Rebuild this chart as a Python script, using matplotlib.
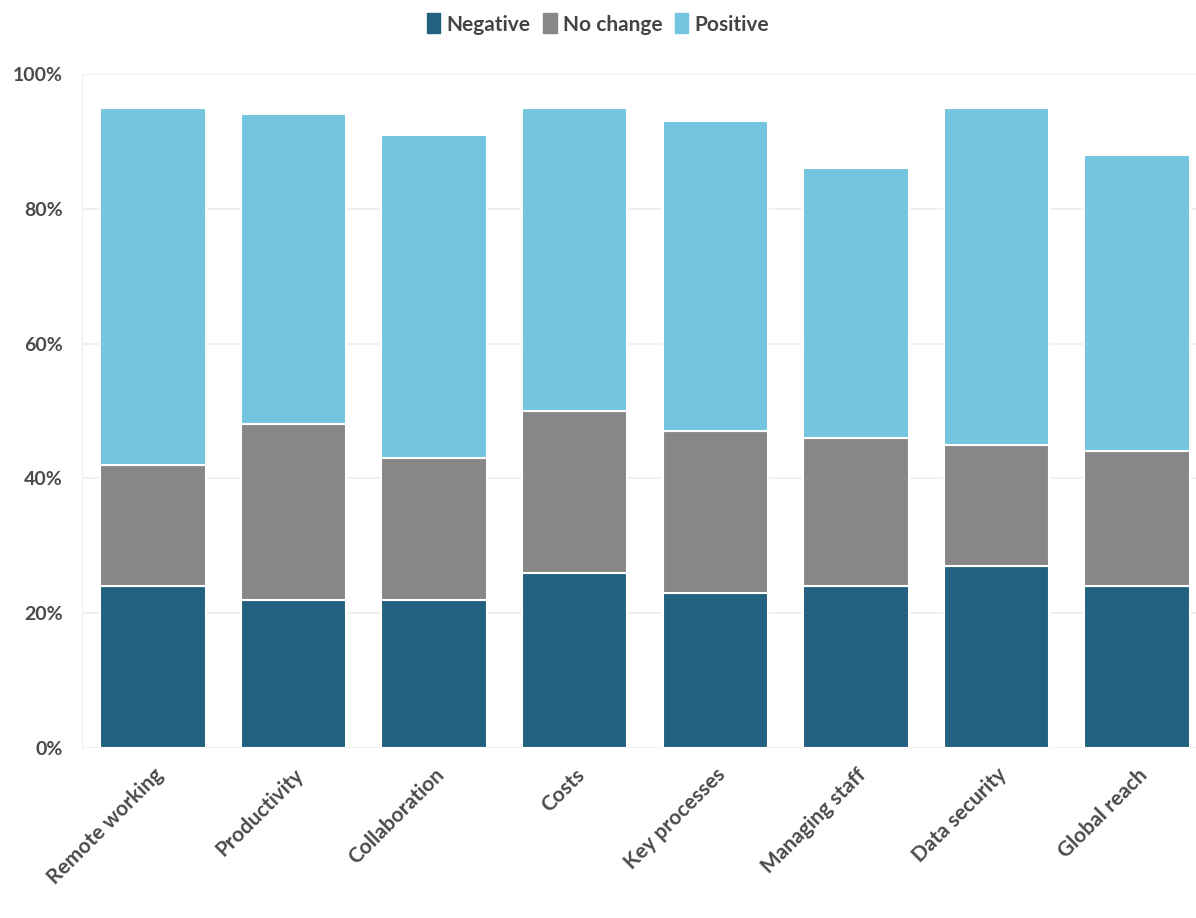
import numpy as np
import matplotlib.pyplot as plt
from matplotlib.ticker import FuncFormatter

plt.rcParams['font.family'] = ['Lato', 'DejaVu Sans']

categories = ['Remote working', 'Productivity', 'Collaboration', 'Costs',
              'Key processes', 'Managing staff', 'Data security', 'Global reach']
negative = [24, 22, 22, 26, 23, 24, 27, 24]
no_change = [18, 26, 21, 24, 24, 22, 18, 20]
positive = [53, 46, 48, 45, 46, 40, 50, 44]

series = ['Negative', 'No change', 'Positive']
colors = ['#22617f', '#878787', '#74c6e0']

fig = plt.figure(figsize=(11.96, 9.18), dpi=100)
ax = fig.add_axes([82 / 1196, 170 / 918, 1114 / 1196, 674 / 918])

x = np.arange(len(categories))
bottom = np.zeros(len(categories))
for name, vals, col in zip(series, [negative, no_change, positive], colors):
    ax.bar(x, vals, width=0.75, bottom=bottom, color=col, edgecolor='white',
           linewidth=1.5, label=name, zorder=2)
    bottom += np.array(vals)

ax.set_xlim(-0.505, 7.42)
ax.set_ylim(0, 100)
ax.set_yticks([0, 20, 40, 60, 80, 100])
ax.yaxis.set_major_formatter(FuncFormatter(lambda v, p: f'{v:.0f}%'))
ax.grid(axis='y', color='#eeeeee', linewidth=1.2, zorder=0)
ax.set_axisbelow(True)

for s in ['top', 'right', 'bottom']:
    ax.spines[s].set_visible(False)
ax.spines['left'].set_color('#eeeeee')

ax.set_xticks(x)
ax.set_xticklabels(categories, rotation=45, ha='right', rotation_mode='anchor',
                   fontsize=15, fontweight='bold', color='#4a4a4a')
ax.tick_params(axis='x', length=0, pad=12)
ax.tick_params(axis='y', length=0, pad=14, labelsize=14, labelcolor='#4a4a4a')
for lbl in ax.get_yticklabels():
    lbl.set_fontweight('bold')

handles = [plt.Rectangle((0, 0), 1, 1, color=c) for c in colors]
leg = fig.legend(handles, series, loc='center', bbox_to_anchor=(0.5, 1 - 24 / 918),
                 ncol=3, frameon=False, handlelength=0.65, handleheight=1.1,
                 handletextpad=0.3, columnspacing=0.6,
                 prop={'size': 15, 'weight': 'bold'})
for t in leg.get_texts():
    t.set_color('#444444')

fig.savefig('out.png', dpi=100, facecolor='white')
